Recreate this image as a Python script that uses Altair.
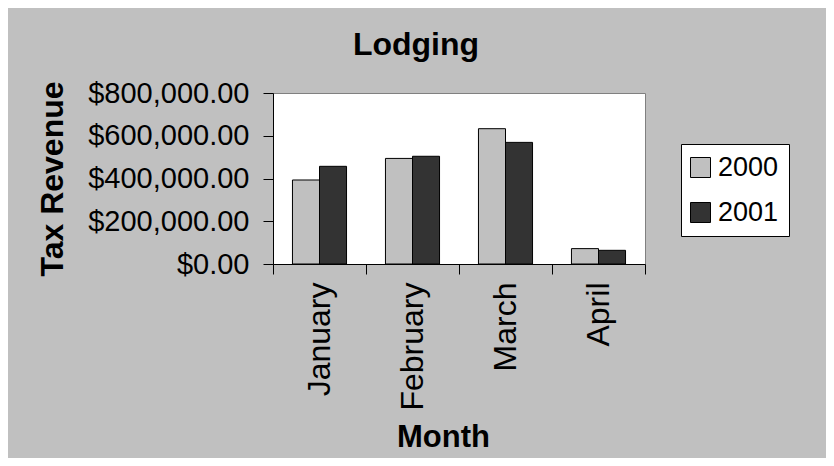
import altair as alt
import pandas as pd

months = ["January", "February", "March", "April"]
years = ["2000", "2001"]
rev_2000 = [393000, 494000, 633000, 72000]
rev_2001 = [457000, 504000, 569000, 64000]
y_ticks = [0, 200000, 400000, 600000, 800000]
colors = ["#C0C0C0", "#333333"]

rows = []
for m, a, b in zip(months, rev_2000, rev_2001):
    rows.append({"Month": m, "Year": years[0], "Revenue": a})
    rows.append({"Month": m, "Year": years[1], "Revenue": b})
df = pd.DataFrame(rows)

FONT = "Liberation Sans"

chart = alt.Chart(df).mark_bar(stroke="black", strokeWidth=1).encode(
    x=alt.X("Month:N", sort=months,
            scale=alt.Scale(paddingInner=0, paddingOuter=0),
            axis=alt.Axis(title="Month", labelAngle=270, labelFontSize=32,
                          labelFont=FONT, labelColor="black", labelPadding=8,
                          tickBand="extent", tickSize=10, tickColor="black",
                          domainColor="black", titleFont=FONT, titleFontSize=31,
                          titleFontWeight="bold", titleColor="black",
                          titleX=170, titleY=182, titleAngle=0,
                          titleAlign="center", titleBaseline="alphabetic")),
    xOffset=alt.XOffset("Year:N", sort=years,
                        scale=alt.Scale(paddingInner=0, paddingOuter=0.72)),
    y=alt.Y("Revenue:Q",
            scale=alt.Scale(domain=[0, 800000], nice=False),
            axis=alt.Axis(title="Tax Revenue", values=y_ticks, format="$,.2f",
                          grid=False, labelFontSize=29, labelFont=FONT,
                          labelColor="black", labelPadding=14, tickSize=10,
                          tickColor="black", domainColor="black",
                          titleFont=FONT, titleFontSize=32, titleFontWeight="bold",
                          titleColor="black", titleX=-211, titleY=85.5,
                          titleAngle=270, titleAlign="center",
                          titleBaseline="alphabetic")),
    color=alt.Color("Year:N", sort=years,
                    scale=alt.Scale(domain=years, range=colors),
                    legend=alt.Legend(title=None, orient="none", legendX=408,
                                      legendY=51, padding=10, fillColor="white",
                                      strokeColor="black", symbolType="square",
                                      symbolSize=400, symbolStrokeColor="black",
                                      symbolStrokeWidth=1, symbolOffset=-4,
                                      labelFontSize=27, labelFont=FONT,
                                      labelColor="black", labelOffset=4,
                                      rowPadding=17)),
).properties(
    width=372,
    height=171,
    title=alt.TitleParams("Lodging", font=FONT, fontSize=32, fontWeight="bold",
                          color="black", anchor="middle", dx=-43, dy=-13),
    background="#C0C0C0",
    autosize=alt.AutoSizeParams(type="none"),
    padding={"left": 265, "top": 85, "right": 181, "bottom": 194},
).configure_view(
    fill="white", stroke="#808080", strokeWidth=1
)

chart.save("out.html", embed_options={"renderer": "svg", "actions": False})
